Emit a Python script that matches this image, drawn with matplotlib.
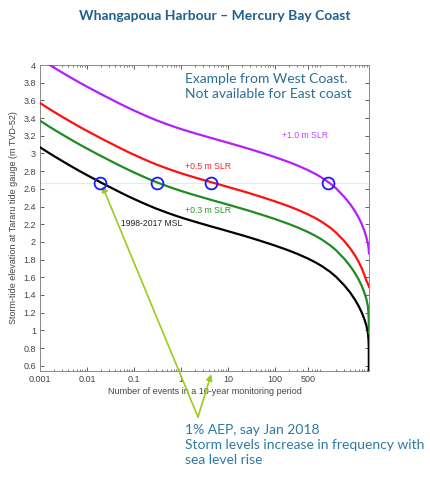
import matplotlib.pyplot as plt
from matplotlib.ticker import LogLocator, NullFormatter
import numpy as np

# values
events = [0.001, 0.0015, 0.002, 0.003, 0.005, 0.0075, 0.01, 0.015, 0.02, 0.03,
          0.05, 0.075, 0.1, 0.15, 0.2, 0.3, 0.5, 0.75, 1, 1.5,
          2, 3, 5, 7.5, 10, 15, 20, 30, 50, 75,
          100, 150, 200, 300, 500, 750, 1000, 1500, 2000, 3000,
          4000, 5000, 6000, 7000, 8000, 8800, 9400, 9750, 9900, 10000]
msl = [3.070, 3.010, 2.969, 2.913, 2.844, 2.791, 2.755, 2.705, 2.670, 2.622,
       2.562, 2.516, 2.485, 2.443, 2.414, 2.375, 2.331, 2.298, 2.276, 2.247,
       2.227, 2.200, 2.166, 2.140, 2.121, 2.094, 2.075, 2.047, 2.010, 1.980,
       1.958, 1.925, 1.901, 1.864, 1.812, 1.764, 1.725, 1.660, 1.604, 1.507,
       1.425, 1.349, 1.276, 1.202, 1.124, 1.054, 0.982, 0.902, 0.803, 0.0]
slr03 = [3.370, 3.310, 3.269, 3.213, 3.144, 3.091, 3.055, 3.005, 2.970, 2.922,
         2.862, 2.816, 2.785, 2.743, 2.714, 2.675, 2.631, 2.598, 2.576, 2.547,
         2.527, 2.500, 2.466, 2.440, 2.421, 2.394, 2.375, 2.347, 2.310, 2.280,
         2.258, 2.225, 2.201, 2.164, 2.112, 2.064, 2.025, 1.960, 1.904, 1.807,
         1.725, 1.649, 1.576, 1.502, 1.424, 1.354, 1.282, 1.200, 1.100, 0.970]
slr05 = [3.570, 3.510, 3.469, 3.413, 3.344, 3.291, 3.255, 3.205, 3.170, 3.122,
         3.062, 3.016, 2.985, 2.943, 2.914, 2.875, 2.831, 2.798, 2.776, 2.747,
         2.727, 2.700, 2.666, 2.640, 2.621, 2.594, 2.575, 2.547, 2.510, 2.480,
         2.458, 2.425, 2.401, 2.364, 2.312, 2.264, 2.225, 2.160, 2.104, 2.007,
         1.925, 1.849, 1.776, 1.702, 1.624, 1.560, 1.530, 1.510, 1.500, 1.490]
slr10 = [4.070, 4.010, 3.969, 3.913, 3.844, 3.791, 3.755, 3.705, 3.670, 3.622,
         3.562, 3.516, 3.485, 3.443, 3.414, 3.375, 3.331, 3.298, 3.276, 3.247,
         3.227, 3.200, 3.166, 3.140, 3.121, 3.094, 3.075, 3.047, 3.010, 2.980,
         2.958, 2.925, 2.901, 2.864, 2.812, 2.764, 2.725, 2.660, 2.604, 2.507,
         2.425, 2.349, 2.276, 2.202, 2.124, 2.050, 1.990, 1.940, 1.900, 1.870]

aep_level = 2.67
aep_events = [0.019, 0.31, 4.4, 1350]

yticks = [0.6, 0.8, 1, 1.2, 1.4, 1.6, 1.8, 2, 2.2, 2.4, 2.6, 2.8, 3, 3.2, 3.4, 3.6, 3.8, 4]
xticks = [0.001, 0.01, 0.1, 1, 10, 100, 500]
xticklabels = ['0.001', '0.01', '0.1', '1', '10', '100', '500']

fig = plt.figure(figsize=(4.3, 4.8), dpi=100)
ax = fig.add_axes([40/430, 1 - 371/480, 329/430, 306/480])

ax.axhline(aep_level, color='#d6f1f8', lw=0.8, zorder=1)
ax.plot(events, msl, color='black', lw=1.6, zorder=3)
ax.plot(events, slr03, color='#1e8c1e', lw=1.6, zorder=3)
ax.plot(events, slr05, color='#ff1010', lw=1.6, zorder=3)
ax.plot(events, slr10, color='#b41eff', lw=1.6, zorder=3)
ax.plot(aep_events, [aep_level]*len(aep_events), 'o', ms=8.5, mfc='none',
        mec='#1a1aff', mew=1.3, zorder=4)

ax.set_xscale('log')
ax.set_xlim(0.001, 10000)
ax.set_ylim(0.54, 4.0)
ax.set_xticks(xticks)
ax.set_xticklabels(xticklabels)
ax.xaxis.set_minor_locator(LogLocator(base=10, subs=np.arange(2, 10)))
ax.xaxis.set_minor_formatter(NullFormatter())
ax.set_yticks(yticks)
ax.set_yticklabels(['%g' % t for t in yticks])
ax.tick_params(which='both', direction='in', top=True, right=True,
               labelsize=6.5, colors='#444444', pad=3)
ax.tick_params(which='major', length=3, width=0.6)
ax.tick_params(which='minor', length=1.6, width=0.5)
for s in ax.spines.values():
    s.set_color('#8a8a8a')
    s.set_linewidth(0.7)

ax.set_xlabel('Number of events in a 10-year monitoring period', fontsize=6.5,
              color='#444444', family='Liberation Sans', labelpad=2)
ax.set_ylabel('Storm-tide elevation at Tararu tide gauge (m TVD-52)', fontsize=6.5,
              color='#444444', family='Liberation Sans', labelpad=4)
for lab in ax.get_xticklabels() + ax.get_yticklabels():
    lab.set_family('Liberation Sans')

ax.text(440, 3.2, '+1.0 m SLR', color='#c040ff', fontsize=6.2, ha='center', va='center',
        family='Liberation Sans')
ax.text(3.7, 2.85, '+0.5 m SLR', color='#ff2020', fontsize=6.2, ha='center', va='center',
        family='Liberation Sans')
ax.text(3.7, 2.35, '+0.3 m SLR', color='#2a962a', fontsize=6.2, ha='center', va='center',
        family='Liberation Sans')
ax.text(0.24, 2.21, '1998-2017 MSL', color='#222222', fontsize=6.2, ha='center', va='center',
        family='Liberation Sans')

ax.text(185/430, 1 - 73/480, 'Example from West Coast.\nNot available for East coast',
        transform=fig.transFigure, color='#2d6f92', fontsize=10, family='Lato',
        va='top', ha='left', linespacing=1.35)

fig.text(0.5, 1 - 16/480, 'Whangapoua Harbour \u2013 Mercury Bay Coast', ha='center',
         va='center', fontsize=10, fontweight='bold', color='#215f8c', family='Lato')

# arrows pointing at the 1% AEP points
vertex = (198/430, 1 - 417/480)
arrow = dict(arrowstyle='-|>', color='#9acd1a', lw=1.2, mutation_scale=9,
             shrinkA=0, shrinkB=0)
ax.annotate('', xy=(0.021, 2.635), xycoords='data', xytext=vertex,
            textcoords='figure fraction', arrowprops=arrow, annotation_clip=False)
ax.annotate('', xy=(4.4, -0.01), xycoords=ax.get_xaxis_transform(), xytext=vertex,
            textcoords='figure fraction', arrowprops=arrow, annotation_clip=False)

fig.text(185/430, 1 - 424/480,
         '1% AEP, say Jan 2018\nStorm levels increase in frequency with\nsea level rise',
         ha='left', va='top', fontsize=10, color='#2d7aa0', family='Lato', linespacing=1.3)

fig.savefig('out.png', dpi=100)
